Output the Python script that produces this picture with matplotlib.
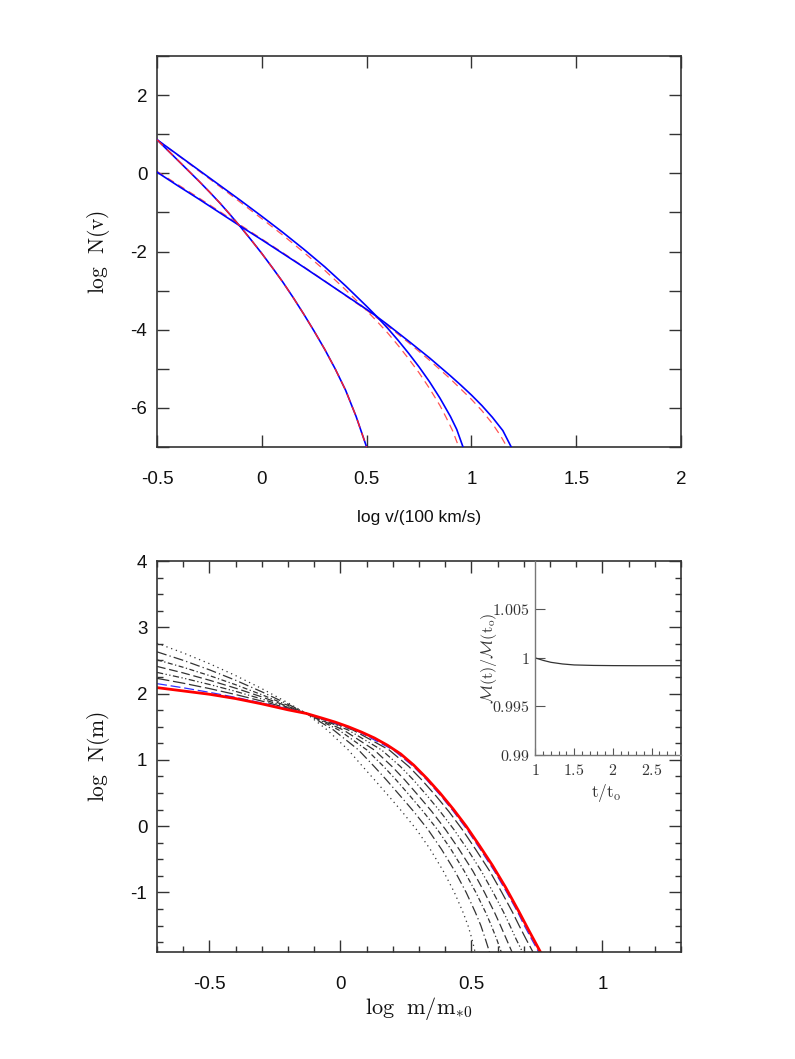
import matplotlib
matplotlib.use('Agg')
import matplotlib.pyplot as plt
from matplotlib.ticker import FixedLocator, FuncFormatter, MultipleLocator

plt.rcParams['mathtext.fontset'] = 'cm'
plt.rcParams['axes.unicode_minus'] = False

# ---------------- top panel: log N(v) vs log v ----------------
steep_x = [-0.5, -0.45, -0.4, -0.35, -0.3, -0.25, -0.2, -0.15, -0.1, -0.05, 0.0,
           0.05, 0.1, 0.15, 0.2, 0.25, 0.3, 0.35, 0.4, 0.45, 0.5]
steep_y = [0.86, 0.595, 0.33, 0.065, -0.2, -0.475, -0.76, -1.065, -1.38, -1.71, -2.05,
           -2.41, -2.78, -3.18, -3.6, -4.04, -4.5, -5.0, -5.55, -6.22, -7.0]

mid_x = [-0.5, -0.4, -0.3, -0.2, -0.1, 0.0, 0.1, 0.2, 0.3, 0.4, 0.5, 0.55, 0.6, 0.65,
         0.7, 0.75, 0.8, 0.85, 0.9, 0.93, 0.96]
mid_y = [0.86, 0.47, 0.08, -0.31, -0.7, -1.1, -1.51, -1.94, -2.39, -2.88, -3.40, -3.67,
         -3.96, -4.27, -4.6, -4.95, -5.33, -5.75, -6.22, -6.55, -7.0]
mid_red_x = [-0.5, -0.4, -0.3, -0.2, -0.1, 0.0, 0.1, 0.2, 0.3, 0.4, 0.5, 0.55, 0.6, 0.65,
             0.7, 0.75, 0.8, 0.85, 0.88, 0.91, 0.94]
mid_red_y = [0.86, 0.46, 0.06, -0.34, -0.75, -1.16, -1.58, -2.02, -2.48, -2.98, -3.51, -3.79,
             -4.08, -4.4, -4.74, -5.1, -5.5, -5.94, -6.25, -6.58, -7.0]

shal_x = [-0.5, -0.4, -0.3, -0.2, -0.1, 0.0, 0.1, 0.2, 0.3, 0.4, 0.5, 0.545, 0.6, 0.7,
          0.8, 0.85, 0.9, 0.95, 1.0, 1.05, 1.1, 1.15, 1.19]
shal_y = [0.03, -0.32, -0.66, -1.01, -1.36, -1.70, -2.05, -2.40, -2.76, -3.12, -3.48, -3.65,
          -3.87, -4.29, -4.72, -4.95, -5.18, -5.42, -5.67, -5.94, -6.24, -6.58, -7.0]
shal_red_x = [-0.5, -0.4, -0.3, -0.2, -0.1, 0.0, 0.1, 0.2, 0.3, 0.4, 0.5, 0.6, 0.7, 0.8,
              0.9, 1.0, 1.05, 1.1, 1.14, 1.17]
shal_red_y = [0.05, -0.29, -0.63, -0.98, -1.33, -1.68, -2.03, -2.39, -2.75, -3.13, -3.50, -3.9,
              -4.33, -4.78, -5.26, -5.78, -6.07, -6.4, -6.72, -7.0]

top_xticks = [-0.5, 0, 0.5, 1, 1.5, 2]
top_yticks = [-7, -6, -5, -4, -3, -2, -1, 0, 1, 2, 3]

# ---------------- bottom panel: log N(m) vs log m ----------------
red_x = [-0.7, -0.6, -0.5, -0.4, -0.3, -0.2, -0.13, -0.07, -0.02, 0.03, 0.08, 0.13, 0.18,
         0.23, 0.28, 0.33, 0.38, 0.43, 0.48, 0.53, 0.58, 0.63, 0.68, 0.72, 0.75, 0.765]
red_y = [2.09, 2.04, 1.99, 1.925, 1.845, 1.755, 1.70, 1.63, 1.57, 1.50, 1.42, 1.33, 1.22,
         1.09, 0.92, 0.72, 0.50, 0.26, 0.0, -0.29, -0.59, -0.92, -1.28, -1.58, -1.80, -1.91]

left_x = [-0.7, -0.6, -0.5, -0.4, -0.3, -0.2, -0.13]
right_y = [1.45, 1.15, 0.9, 0.7, 0.45, 0.22, -0.05, -0.35, -0.68, -1.0, -1.3, -1.5, -1.7, -1.9]

blue_left = [2.15, 2.088, 2.019, 1.943, 1.859, 1.768, 1.70]
blue_right = [0.058, 0.202, 0.279, 0.329, 0.385, 0.432, 0.483, 0.534, 0.588, 0.635, 0.677, 0.702, 0.729, 0.757]

dot_left = [2.76, 2.614, 2.452, 2.272, 2.075, 1.86, 1.70]
dot_right = [-0.05, 0.03, 0.085, 0.13, 0.185, 0.235, 0.29, 0.343, 0.393, 0.435, 0.468, 0.487, 0.502, 0.514]
c2_left = [2.63, 2.502, 2.359, 2.201, 2.027, 1.84, 1.70]
c2_right = [-0.026, 0.069, 0.129, 0.175, 0.230, 0.280, 0.334, 0.386, 0.437, 0.480, 0.515, 0.536, 0.553, 0.569]
c3_left = [2.51, 2.397, 2.272, 2.134, 1.983, 1.822, 1.70]
c3_right = [-0.006, 0.101, 0.165, 0.212, 0.267, 0.316, 0.370, 0.422, 0.473, 0.517, 0.554, 0.576, 0.596, 0.614]
c4_left = [2.41, 2.312, 2.202, 2.082, 1.95, 1.806, 1.70]
c4_right = [0.012, 0.129, 0.197, 0.245, 0.300, 0.349, 0.401, 0.453, 0.506, 0.550, 0.588, 0.611, 0.633, 0.655]
c5_left = [2.32, 2.234, 2.138, 2.034, 1.918, 1.793, 1.70]
c5_right = [0.030, 0.157, 0.229, 0.278, 0.333, 0.381, 0.433, 0.485, 0.538, 0.583, 0.623, 0.647, 0.670, 0.695]
c6_left = [2.23, 2.157, 2.076, 1.986, 1.887, 1.78, 1.70]
c6_right = [0.048, 0.186, 0.261, 0.310, 0.366, 0.414, 0.465, 0.516, 0.570, 0.616, 0.657, 0.682, 0.708, 0.735]

bot_xticks = [-0.5, 0, 0.5, 1]
bot_yticks = [-1, 0, 1, 2, 3, 4]

# ---------------- inset: total mass vs time ----------------
ins_t = [1.0, 1.1, 1.2, 1.35, 1.5, 1.75, 2.0, 2.3, 2.6, 2.88]
ins_m = [1.0, 0.99975, 0.99955, 0.99938, 0.99928, 0.99923, 0.99921, 0.99920, 0.99920, 0.99920]
ins_xticks = [1, 1.5, 2, 2.5]
ins_yticks = [0.99, 0.995, 1.0, 1.005]
ins_ylabels = ['0.99', '0.995', '1', '1.005']

SPINE = '#333333'

fig = plt.figure(figsize=(7.95, 10.59), dpi=100)
ax1 = fig.add_axes([0.1975, 0.5779, 0.6591, 0.3692])
ax2 = fig.add_axes([0.1975, 0.1010, 0.6591, 0.3692])
axi = fig.add_axes([0.6735, 0.2871, 0.1832, 0.1832])


def style_main(ax):
    for s in ax.spines.values():
        s.set_color(SPINE)
        s.set_linewidth(1.2)
    ax.tick_params(which='both', direction='in', top=True, right=True,
                   color=SPINE, width=1.0)
    ax.tick_params(which='major', length=8.5)
    ax.tick_params(which='minor', length=4.5)
    ax.tick_params(axis='x', which='both', pad=17)
    ax.tick_params(axis='y', which='both', pad=7)
    for lab in ax.get_xticklabels() + ax.get_yticklabels():
        lab.set_fontfamily('Liberation Sans')
        lab.set_fontsize(13.5)
        lab.set_color('#111111')


def join(xl, yl, xr, yr):
    return list(xl) + list(xr), list(yl) + list(yr)


# ---- top panel ----
ax1.plot(steep_x, steep_y, color='#0000ff', lw=1.2, zorder=3)
ax1.plot(steep_x, steep_y, color='#ff2020', lw=1.0, ls=(0, (6, 4)), zorder=4)
ax1.plot(mid_red_x, mid_red_y, color='#ff5555', lw=0.9, ls=(0, (6, 4)), zorder=2)
ax1.plot(mid_x, mid_y, color='#0000ff', lw=1.2, zorder=3)
ax1.plot(shal_red_x, shal_red_y, color='#ff5555', lw=0.9, ls=(0, (6, 4)), zorder=2)
ax1.plot(shal_x, shal_y, color='#0000ff', lw=1.2, zorder=3)
ax1.set_xlim(-0.5, 2)
ax1.set_ylim(-7, 3)
ax1.xaxis.set_major_locator(FixedLocator(top_xticks))
ax1.yaxis.set_major_locator(FixedLocator(top_yticks))
ax1.xaxis.set_major_formatter(FuncFormatter(lambda v, p: '%g' % v))
ax1.yaxis.set_major_formatter(FuncFormatter(lambda v, p: ('%d' % round(v)) if round(v) % 2 == 0 else ''))
style_main(ax1)
ax1.set_xlabel('log v/(100 km/s)', family='Liberation Sans', size=12.5, color='#111111')
ax1.xaxis.set_label_coords(0.5, -0.16)
ax1.xaxis.label.set_va('top')
ax1.set_ylabel(r'$\mathrm{log\ \ N(v)}$', size=15.5, color='#111111')
ax1.yaxis.set_label_coords(-0.085, 0.5)

# ---- bottom panel ----
styles = [(dot_left, dot_right, (0, (1, 3))),
          (c2_left, c2_right, (0, (8, 2.5, 1, 2.5))),
          (c3_left, c3_right, (0, (4, 2, 1, 2))),
          (c4_left, c4_right, (0, (7, 3))),
          (c5_left, c5_right, (0, (5, 2, 1, 2, 1, 2))),
          (c6_left, c6_right, (0, (10, 3)))]
for yl, xr, ls in styles:
    xs, ys = join(left_x, yl, xr, right_y)
    ax2.plot(xs, ys, color='#333333', lw=0.9, ls=ls)
bx, by = join(left_x, blue_left, blue_right, right_y)
ax2.plot(bx, by, color='#3030ff', lw=0.9, ls=(0, (8, 3)))
ax2.plot(red_x, red_y, color='#ff0000', lw=2.0)
ax2.set_xlim(-0.7, 1.3)
ax2.set_ylim(-1.9, 4)
ax2.xaxis.set_major_locator(FixedLocator(bot_xticks))
ax2.xaxis.set_minor_locator(MultipleLocator(0.1))
ax2.yaxis.set_major_locator(FixedLocator(bot_yticks))
ax2.yaxis.set_minor_locator(MultipleLocator(0.25))
ax2.xaxis.set_major_formatter(FuncFormatter(lambda v, p: '%g' % v))
ax2.yaxis.set_major_formatter(FuncFormatter(lambda v, p: '%d' % round(v)))
style_main(ax2)
ax2.set_xlabel(r'$\mathrm{log\ \ m/m_{*0}}$', size=16, color='#111111')
ax2.xaxis.set_label_coords(0.5, -0.11)
ax2.xaxis.label.set_va('top')
ax2.set_ylabel(r'$\mathrm{log\ \ N(m)}$', size=15.5, color='#111111')
ax2.yaxis.set_label_coords(-0.085, 0.5)

# ---- inset ----
axi.set_facecolor('none')
axi.plot(ins_t, ins_m, color='#333333', lw=0.9)
axi.set_xlim(1, 2.88)
axi.set_ylim(0.99, 1.01)
axi.spines['top'].set_visible(False)
axi.spines['right'].set_visible(False)
for s in ('left', 'bottom'):
    axi.spines[s].set_color('#777777')
    axi.spines[s].set_linewidth(1.0)
axi.xaxis.set_major_locator(FixedLocator(ins_xticks))
axi.xaxis.set_minor_locator(MultipleLocator(0.1))
axi.yaxis.set_major_locator(FixedLocator(ins_yticks))
axi.xaxis.set_major_formatter(FuncFormatter(lambda v, p: r'$%g$' % v))
axi.set_yticklabels([r'$%s$' % s for s in ins_ylabels])
axi.tick_params(which='both', direction='in', color='#555555', width=0.8,
                labelsize=11.5, labelcolor='#333333')
axi.tick_params(axis='x', which='major', length=5, pad=6)
axi.tick_params(axis='x', which='minor', length=3)
axi.tick_params(axis='y', which='major', length=7, pad=4)
axi.set_xlabel(r'$\mathrm{t/t_o}$', size=12.5, color='#333333')
axi.xaxis.set_label_coords(0.49, -0.14)
axi.xaxis.label.set_va('top')
axi.set_ylabel(r'$\mathcal{M}(\mathrm{t})/\mathcal{M}(\mathrm{t_o})$', size=11.5, color='#333333')
axi.yaxis.set_label_coords(-0.25, 0.5)

fig.savefig('out.png', dpi=100)
